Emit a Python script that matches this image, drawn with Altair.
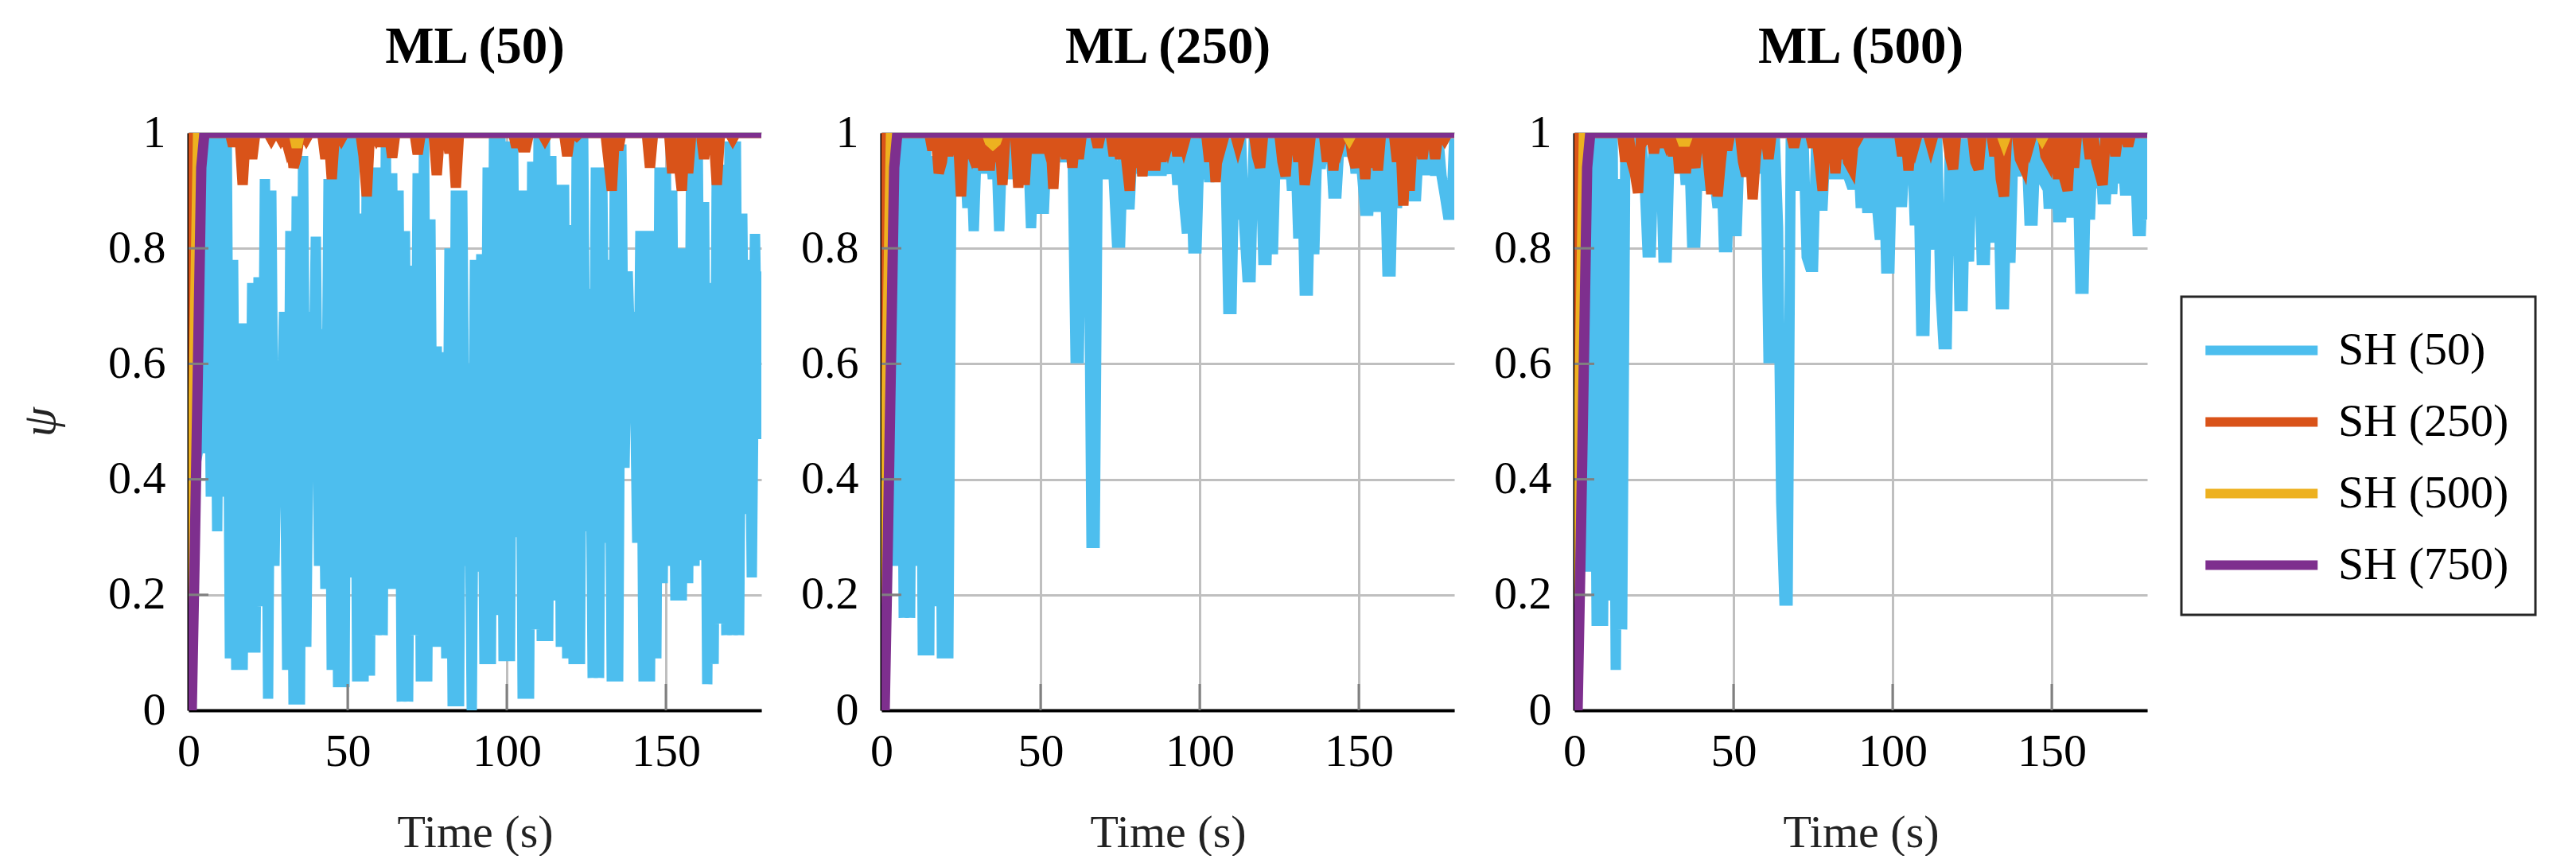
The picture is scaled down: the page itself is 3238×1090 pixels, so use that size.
import altair as alt
import pandas as pd

SERIF = "Liberation Serif"
SERIES = ["SH (50)", "SH (250)", "SH (500)", "SH (750)"]
COLORS = ["#4DBEEE", "#D95319", "#EDB120", "#7E2F8E"]
PANEL_TITLES = ["ML (50)", "ML (250)", "ML (500)"]
X_TICKS = [0, 50, 100, 150]
Y_TICKS = [0, 0.2, 0.4, 0.6, 0.8, 1]
X_MAX = 180

# SH (50) sampled every second (t = 0..180), one list per ML panel
blue_ml50 = [
    0, 0.2, 0.42, 0.45, 0.95, 0.445, 1.0, 0.37, 1.0, 0.31,
    1.0, 0.37, 1.0, 0.09, 0.78, 0.07, 0.67, 0.07, 0.67, 0.1,
    0.74, 0.1, 0.75, 0.18, 0.92, 0.02, 0.90, 0.25, 0.6, 0.41,
    0.69, 0.07, 0.83, 0.01, 0.89, 0.01, 0.96, 0.11, 0.69, 0.43,
    0.82, 0.25, 0.66, 0.21, 0.92, 0.07, 0.97, 0.04, 1.0, 0.04,
    1.0, 0.23, 1.0, 0.05, 0.86, 0.05, 0.94, 0.06, 0.94, 0.13,
    0.94, 0.13, 0.98, 0.21, 0.93, 0.21, 0.9, 0.015, 0.83, 0.015,
    0.77, 0.13, 0.93, 0.05, 1.0, 0.05, 0.85, 0.11, 0.63, 0.11,
    0.62, 0.09, 0.8, 0.007, 0.9, 0.007, 0.9, 0.25, 0.6, 0.0,
    0.78, 0.24, 0.79, 0.08, 0.94, 0.08, 1.0, 0.165, 1.0, 0.085,
    0.985, 0.085, 0.985, 0.3, 0.9, 0.02, 0.9, 0.02, 0.95, 0.14,
    1.0, 0.12, 1.0, 0.12, 0.96, 0.19, 0.91, 0.11, 0.91, 0.09,
    0.84, 0.08, 1.0, 0.08, 1.0, 0.31, 0.73, 0.056, 0.94, 0.056,
    0.94, 0.29, 0.78, 0.05, 0.98, 0.05, 0.98, 0.42, 0.76, 0.58,
    0.69, 0.29, 0.83, 0.05, 0.83, 0.05, 0.83, 0.09, 0.94, 0.22,
    0.94, 0.25, 0.9, 0.19, 0.8, 0.19, 0.8, 0.22, 0.99, 0.25,
    0.99, 0.26, 0.88, 0.045, 0.74, 0.08, 0.945, 0.15, 0.945, 0.13,
    0.985, 0.13, 0.985, 0.13, 0.86, 0.34, 0.78, 0.23, 0.825, 0.47,
    0.76,
]
blue_ml250 = [
    0, 0.25, 0.9, 0.25, 1.0, 0.25, 1.0, 0.16, 1.0, 0.16,
    1.0, 0.25, 1.0, 0.095, 1.0, 0.095, 0.96, 0.18, 0.93, 0.09,
    0.95, 0.09, 0.95, 0.95, 0.99, 0.95, 0.99, 0.87, 0.99, 0.83,
    0.99, 0.93, 0.99, 0.93, 0.99, 0.92, 0.99, 0.83, 0.99, 0.92,
    0.99, 0.92, 0.99, 0.92, 0.99, 0.92, 0.99, 0.835, 0.99, 0.86,
    0.99, 0.86, 0.99, 0.95, 0.99, 0.95, 0.99, 0.95, 0.99, 0.95,
    0.99, 0.61, 0.61, 0.99, 0.85, 0.99, 0.29, 0.29, 0.99, 0.97,
    0.99, 0.92, 0.99, 0.92, 0.81, 0.81, 0.99, 0.876, 0.876, 0.99,
    0.93, 0.99, 0.926, 0.99, 0.926, 0.99, 0.926, 0.99, 0.926, 0.99,
    0.956, 0.93, 0.99, 0.91, 0.99, 0.885, 0.826, 0.99, 0.8, 0.8,
    0.99, 0.92, 0.99, 0.915, 0.99, 0.94, 0.99, 0.94, 0.99, 0.695,
    0.695, 0.99, 0.85, 0.99, 0.84, 0.75, 0.75, 0.99, 0.875, 0.99,
    0.78, 0.78, 0.99, 0.79, 0.99, 0.92, 0.99, 0.92, 0.99, 0.9,
    0.99, 0.817, 0.99, 0.727, 0.727, 0.99, 0.79, 0.99, 0.938, 0.99,
    0.956, 0.99, 0.895, 0.895, 0.99, 0.96, 0.99, 0.96, 0.99, 0.93,
    0.99, 0.93, 0.865, 0.865, 0.99, 0.99, 0.872, 0.872, 0.99, 0.76,
    0.76, 0.99, 0.87, 0.99, 0.915, 0.99, 0.915, 0.89, 0.89, 0.99,
    0.927, 0.99, 0.927, 0.99, 0.926, 0.99, 0.926, 0.893, 0.858, 0.858,
    0.99,
]
blue_ml500 = [
    0, 0.24, 0.9, 0.24, 1.0, 0.24, 1.0, 0.146, 1.0, 0.146,
    1.0, 0.19, 1.0, 0.07, 0.92, 0.14, 0.97, 0.99, 0.93, 0.99,
    0.93, 0.99, 0.926, 0.793, 0.793, 0.99, 0.89, 0.99, 0.784, 0.784,
    0.99, 0.93, 0.99, 0.93, 0.99, 0.91, 0.99, 0.81, 0.81, 0.99,
    0.9, 0.99, 0.92, 0.99, 0.92, 0.87, 0.99, 0.802, 0.802, 0.99,
    0.83, 0.83, 0.99, 0.94, 0.99, 0.94, 0.99, 0.94, 0.99, 0.93,
    0.99, 0.61, 0.61, 0.99, 0.836, 0.36, 0.19, 0.19, 0.99, 0.94,
    0.99, 0.9, 0.99, 0.785, 0.768, 0.768, 0.99, 0.874, 0.874, 0.99,
    0.92, 0.99, 0.92, 0.99, 0.92, 0.99, 0.926, 0.91, 0.91, 0.99,
    0.87, 0.99, 0.87, 0.87, 0.99, 0.88, 0.815, 0.99, 0.765, 0.765,
    0.99, 0.915, 0.88, 0.88, 0.99, 0.93, 0.99, 0.84, 0.99, 0.657,
    0.657, 0.99, 0.8, 0.816, 0.99, 0.73, 0.634, 0.634, 0.99, 0.787,
    0.99, 0.7, 0.7, 0.99, 0.777, 0.99, 0.9, 0.99, 0.78, 0.78,
    0.99, 0.81, 0.99, 0.99, 0.703, 0.703, 0.99, 0.775, 0.99, 0.925,
    0.99, 0.956, 0.99, 0.848, 0.848, 0.99, 0.93, 0.92, 0.99, 0.877,
    0.877, 0.99, 0.854, 0.854, 0.99, 0.93, 0.862, 0.862, 0.99, 0.73,
    0.73, 0.99, 0.85, 0.99, 0.904, 0.99, 0.885, 0.885, 0.99, 0.894,
    0.99, 0.913, 0.99, 0.9, 0.9, 0.99, 0.99, 0.83, 0.83, 0.99,
    0.85,
]

# SH (250): (time, psi) points
orange_ml50 = [
    (0, 0), (1, 1), (13, 1), (14, 0.977), (15, 1), (16, 1), (17, 0.91), (18, 1),
    (19, 1), (20, 0.955), (21, 1), (25, 1), (26, 0.99), (27, 1), (28, 1), (29, 0.99),
    (30, 1), (31, 0.98), (32, 1), (33, 0.94), (34, 0.96), (35, 1), (36, 1), (37, 0.99),
    (38, 1), (42, 1), (43, 0.955), (44, 1), (45, 0.92), (46, 1), (47, 1), (48, 0.99),
    (49, 1), (54, 1), (55, 0.96), (56, 0.89), (57, 1), (58, 1), (59, 0.99), (60, 1),
    (61, 0.977), (62, 1), (63, 1), (64, 0.957), (65, 1), (71, 1), (72, 0.963), (73, 1),
    (77, 1), (78, 0.927), (79, 1), (81, 1), (82, 0.965), (83, 1), (84, 0.905), (85, 1),
    (102, 1), (103, 0.975), (104, 1), (105, 0.975), (106, 0.975), (107, 1),
    (111, 1), (112, 0.99), (113, 1), (118, 1), (119, 0.96), (120, 1),
    (121, 1), (122, 0.995), (123, 1), (131, 1), (132, 0.95), (133, 0.9), (134, 1),
    (135, 0.97), (136, 1), (144, 1), (145, 0.94), (146, 1), (151, 1), (152, 0.93),
    (153, 1), (154, 0.95), (155, 0.9), (156, 1), (157, 0.93), (158, 1), (161, 1),
    (162, 0.955), (163, 1), (165, 1), (166, 0.91), (167, 1), (170, 1), (171, 0.99),
    (172, 1), (180, 1),
]
orange_ml250 = [
    (0, 0), (1, 1), (15, 1), (16, 0.97), (17, 1), (18, 0.93), (19, 0.95), (20, 1),
    (21, 0.96), (22, 1), (23, 0.97), (24, 1), (25, 0.89), (26, 1), (28, 0.97), (29, 1),
    (30, 0.94), (31, 1), (32, 0.935), (33, 1), (34, 0.935), (35, 1), (36, 0.95), (37, 1),
    (38, 0.91), (39, 1), (42, 1), (43, 0.905), (44, 1), (45, 0.91), (46, 1), (47, 1),
    (48, 0.965), (49, 1), (50, 0.965), (51, 1), (52, 0.98), (53, 1), (54, 0.903), (55, 1),
    (56, 0.96), (57, 1), (58, 0.955), (59, 1), (60, 0.94), (61, 1), (62, 0.955), (63, 1),
    (67, 1), (68, 0.975), (69, 1), (72, 1), (73, 0.96), (74, 1), (75, 0.955), (76, 1),
    (77, 0.95), (78, 0.9), (79, 1), (80, 0.94), (81, 1), (82, 0.925), (83, 1), (84, 0.935),
    (85, 1), (86, 0.935), (87, 1), (88, 0.95), (89, 1), (90, 0.98), (91, 1), (92, 1),
    (93, 0.96), (94, 1), (95, 0.98), (96, 1), (102, 1), (103, 0.95), (104, 1), (105, 0.915),
    (106, 1), (107, 0.98), (108, 1), (111, 1), (112, 0.98), (113, 1), (117, 1), (118, 0.96),
    (119, 0.94), (120, 1), (125, 1), (126, 0.95), (127, 0.925), (128, 1), (130, 1),
    (131, 0.95), (132, 1), (133, 0.91), (134, 0.95), (135, 1), (139, 1), (140, 0.95),
    (141, 1), (142, 0.935), (143, 1), (144, 0.98), (145, 1), (147, 1), (148, 0.96),
    (149, 0.94), (150, 1), (151, 1), (152, 0.92), (153, 1), (154, 0.94), (155, 1),
    (156, 0.935), (157, 1), (161, 1), (162, 0.95), (163, 1), (164, 0.874), (165, 1),
    (166, 0.9), (167, 1), (169, 1), (170, 0.955), (171, 1), (173, 1), (174, 0.955),
    (175, 1), (176, 1), (177, 0.99), (178, 1), (180, 1),
]
orange_ml500 = [
    (0, 0), (1, 1), (15, 1), (16, 0.95), (17, 1), (18, 0.95), (19, 0.93), (20, 0.896),
    (21, 1), (22, 0.99), (23, 1), (24, 1), (25, 0.965), (26, 1), (27, 0.975), (28, 1),
    (29, 0.985), (30, 1), (31, 0.96), (32, 1), (33, 0.93), (34, 1), (35, 0.93), (36, 1),
    (37, 0.96), (38, 0.94), (39, 1), (41, 1), (42, 0.95), (43, 0.894), (44, 1), (45, 0.89),
    (46, 0.95), (47, 1), (48, 0.97), (49, 1), (52, 1), (53, 0.95), (54, 0.925), (55, 1),
    (56, 0.885), (57, 0.96), (58, 1), (60, 1), (61, 0.955), (62, 1), (68, 1), (69, 0.975),
    (70, 1), (74, 1), (75, 0.975), (76, 1), (77, 0.95), (78, 0.9), (79, 1), (80, 0.96),
    (81, 1), (82, 0.93), (83, 1), (84, 0.955), (85, 1), (86, 0.95), (87, 0.94), (88, 1),
    (89, 0.99), (90, 1), (102, 1), (103, 0.96), (104, 1), (105, 0.935), (106, 1),
    (107, 0.98), (108, 1), (111, 1), (112, 0.98), (113, 1), (117, 1), (118, 0.96),
    (119, 0.937), (120, 1), (125, 1), (126, 0.95), (127, 0.937), (128, 1), (131, 1),
    (132, 0.96), (133, 1), (134, 0.92), (135, 0.89), (136, 1), (139, 1), (140, 0.955),
    (141, 0.943), (142, 1), (143, 0.98), (144, 1), (147, 1), (148, 0.96), (149, 0.95),
    (150, 1), (151, 1), (152, 0.92), (153, 1), (154, 0.92), (155, 0.9), (156, 1),
    (157, 0.94), (158, 1), (161, 1), (162, 0.955), (163, 1), (164, 0.95), (165, 0.93),
    (166, 0.91), (167, 1), (169, 1), (170, 0.96), (171, 1), (173, 1), (174, 0.977),
    (175, 1), (180, 1),
]

# SH (500)
yellow_ml50 = [(0, 0), (3, 1), (33, 1), (34, 0.975), (35, 1), (180, 1)]
yellow_ml250 = [(0, 0), (3, 1), (33, 1), (34, 0.985), (35, 0.98), (36, 0.985), (37, 1),
                (146, 1), (147, 0.99), (148, 1), (180, 1)]
yellow_ml500 = [(0, 0), (3, 1), (33, 1), (34, 0.985), (35, 0.985), (36, 1),
                (134, 1), (135, 0.985), (136, 1), (146, 1), (147, 0.99), (148, 1), (180, 1)]

# SH (750)
purple_all = [(0, 0), (1, 0), (2, 0.29), (3, 0.61), (4, 0.94), (5, 1), (180, 1)]

PLOT_W = 720
PLOT_H = 726
TICK_FONT = 58
TITLE_FONT = 58


def seq_df(name, values):
    return pd.DataFrame({"t": list(range(len(values))), "v": values, "series": name})


def pts_df(name, pairs):
    return pd.DataFrame({"t": [p[0] for p in pairs], "v": [p[1] for p in pairs], "series": name})


legend = alt.Legend(
    title=None, orient="none", legendX=2505, legendY=206, direction="vertical",
    symbolType="M-1.32,0H3.68", symbolSize=3181, symbolStrokeWidth=12,
    labelFont=SERIF, labelFontSize=58, labelColor="black", labelOffset=95, labelLimit=600,
    padding=33, rowPadding=26, strokeColor="#262626", fillColor="white",
)
color_enc = alt.Color("series:N", scale=alt.Scale(domain=SERIES, range=COLORS), legend=legend)


def make_panel(title, blue, orange, yellow, purple, with_ytitle):
    x_axis = alt.Axis(
        values=X_TICKS, title="Time (s)", titleFont=SERIF, titleFontSize=TITLE_FONT,
        titleFontWeight="normal", titleColor="#222222", titlePadding=44,
        labelFont=SERIF, labelFontSize=TICK_FONT, labelColor="black", labelPadding=23,
        labelFlush=False, labelOverlap=False, ticks=False,
        domainColor="black", domainWidth=4, gridColor="#bfbfbf", gridWidth=3,
    )
    y_kwargs = dict(
        values=Y_TICKS, format="~g",
        labelFont=SERIF, labelFontSize=TICK_FONT, labelColor="black", labelPadding=29,
        labelFlush=False, labelOverlap=False, ticks=False,
        domainColor="black", domainWidth=4, gridColor="#bfbfbf", gridWidth=3,
    )
    if with_ytitle:
        y_axis = alt.Axis(title="ψ", titleFont=SERIF, titleFontSize=60, titleFontStyle="italic",
                          titleFontWeight="normal", titleColor="#222222", titlePadding=54, **y_kwargs)
    else:
        y_axis = alt.Axis(title=None, **y_kwargs)
    x_enc = alt.X("t:Q", scale=alt.Scale(domain=[0, X_MAX], nice=False, zero=False), axis=x_axis)
    y_enc = alt.Y("v:Q", scale=alt.Scale(domain=[0, 1], nice=False), axis=y_axis)

    frames = [seq_df(SERIES[0], blue), pts_df(SERIES[1], orange),
              pts_df(SERIES[2], yellow), pts_df(SERIES[3], purple)]
    layers = [
        alt.Chart(df).mark_line(strokeWidth=13, clip=True, strokeCap="butt", strokeJoin="miter")
        .encode(x=x_enc, y=y_enc, color=color_enc)
        for df in frames
    ]
    xt = alt.Chart(pd.DataFrame({"t": X_TICKS[1:]})).mark_rule(color="#808080", strokeWidth=3).encode(
        x=x_enc, y=alt.value(PLOT_H), y2=alt.value(PLOT_H - 33))
    yt = alt.Chart(pd.DataFrame({"v": Y_TICKS[1:-1]})).mark_rule(color="#808080", strokeWidth=3).encode(
        y=y_enc, x=alt.value(0), x2=alt.value(25))
    return alt.layer(*layers, xt, yt).properties(
        width=PLOT_W, height=PLOT_H,
        title=alt.TitleParams(text=title, font=SERIF, fontSize=65, fontWeight="bold", color="black",
                              anchor="middle", frame="group", baseline="alphabetic", offset=-6),
    )


p1 = make_panel(PANEL_TITLES[0], blue_ml50, orange_ml50, yellow_ml50, purple_all, True)
p2 = make_panel(PANEL_TITLES[1], blue_ml250, orange_ml250, yellow_ml250, purple_all, False)
p3 = make_panel(PANEL_TITLES[2], blue_ml500, orange_ml500, yellow_ml500, purple_all, False)

chart = (
    alt.hconcat(p1, p2, p3, spacing=151, bounds="flush")
    .resolve_scale(color="shared")
    .properties(padding={"left": 12, "top": 19, "right": 5, "bottom": 0})
    .configure_view(stroke=None)
    .configure_legend(strokeWidth=3)
)

chart.save("out.html", embed_options={"renderer": "svg", "actions": False})
